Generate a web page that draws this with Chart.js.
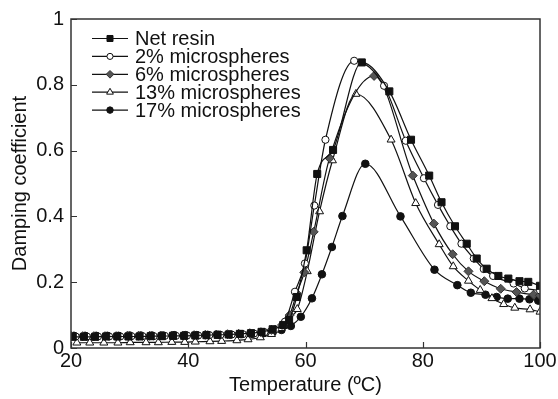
<!DOCTYPE html>
<html>
<head>
<meta charset="utf-8">
<script src="https://cdn.jsdelivr.net/npm/chart.js@4/dist/chart.umd.min.js"></script>
<style>
  html, body { margin: 0; padding: 0; background: #fff; }
  canvas { display: block; }
</style>
</head>
<body>
<canvas id="c" width="558" height="399"></canvas>
<script>
// ---- data ----
const seriesLabels = ['Net resin', '2% microspheres', '6% microspheres', '13% microspheres', '17% microspheres'];
const xTicks = [20, 40, 60, 80, 100];
const yTicks = [0, 0.2, 0.4, 0.6, 0.8, 1];

const netT = [20.3, 22.2, 24.1, 26.0, 27.9, 29.8, 31.7, 33.6, 35.5, 37.4, 39.3, 41.2, 43.1, 45.0, 46.9, 48.8, 50.7, 52.5, 54.4, 56.2, 57.2, 58.5, 60.2, 62.0, 64.7, 69.6, 74.3, 78.0, 81.1, 83.2, 85.5, 87.5, 89.2, 90.9, 92.9, 94.6, 96.5, 98.0, 100];
const netV = [0.034, 0.034, 0.034, 0.035, 0.035, 0.035, 0.035, 0.036, 0.036, 0.037, 0.037, 0.038, 0.039, 0.040, 0.041, 0.043, 0.045, 0.049, 0.057, 0.070, 0.085, 0.155, 0.297, 0.529, 0.602, 0.868, 0.780, 0.633, 0.524, 0.443, 0.370, 0.317, 0.272, 0.241, 0.219, 0.211, 0.203, 0.201, 0.189];

const p2T = [20.8, 22.7, 24.6, 26.5, 28.4, 30.3, 32.2, 34.1, 36.0, 37.9, 39.8, 41.7, 43.6, 45.5, 47.4, 49.3, 51.2, 53.0, 54.8, 56.5, 58.2, 59.9, 61.5, 63.4, 68.3, 73.4, 77.1, 80.2, 82.6, 84.7, 86.6, 88.7, 90.4, 92.0, 95.5, 97.4, 100];
const p2V = [0.035, 0.035, 0.035, 0.035, 0.035, 0.036, 0.036, 0.036, 0.037, 0.037, 0.038, 0.038, 0.039, 0.040, 0.041, 0.042, 0.044, 0.048, 0.056, 0.080, 0.171, 0.257, 0.433, 0.633, 0.873, 0.797, 0.630, 0.516, 0.435, 0.370, 0.317, 0.272, 0.240, 0.219, 0.196, 0.181, 0.175];

const p6T = [20.1, 22.0, 23.9, 25.8, 27.7, 29.6, 31.5, 33.4, 35.3, 37.2, 39.1, 41.0, 42.9, 44.8, 46.7, 48.6, 50.5, 52.4, 54.2, 56.0, 57.3, 58.5, 59.8, 61.4, 64.1, 71.7, 78.3, 81.9, 85.1, 87.8, 90.5, 93.3, 96.0, 98.9, 100];
const p6V = [0.036, 0.036, 0.036, 0.036, 0.036, 0.037, 0.037, 0.037, 0.038, 0.038, 0.038, 0.039, 0.040, 0.041, 0.042, 0.043, 0.045, 0.048, 0.055, 0.070, 0.100, 0.166, 0.230, 0.353, 0.577, 0.827, 0.524, 0.378, 0.285, 0.233, 0.203, 0.180, 0.170, 0.162, 0.160];

const p13T = [21.0, 23.2, 25.6, 28.0, 30.1, 32.8, 34.9, 37.2, 39.4, 41.2, 43.7, 45.7, 48.3, 50.2, 52.3, 54.2, 55.8, 56.9, 58.6, 60.3, 62.4, 64.6, 68.6, 74.6, 78.8, 82.8, 85.2, 87.8, 89.8, 91.8, 93.8, 95.7, 98.3, 100];
const p13V = [0.016, 0.016, 0.016, 0.016, 0.017, 0.017, 0.017, 0.018, 0.018, 0.019, 0.020, 0.021, 0.023, 0.026, 0.032, 0.042, 0.060, 0.090, 0.118, 0.233, 0.415, 0.570, 0.772, 0.633, 0.440, 0.315, 0.248, 0.204, 0.176, 0.151, 0.133, 0.122, 0.117, 0.110];

const p17T = [20.5, 22.4, 24.3, 26.2, 28.1, 30.0, 31.9, 33.8, 35.7, 37.6, 39.5, 41.4, 43.3, 45.2, 47.1, 49.0, 50.9, 52.8, 54.4, 55.9, 57.5, 59.2, 61.1, 62.8, 64.5, 66.3, 70.2, 76.2, 82.0, 85.9, 88.2, 90.7, 92.6, 94.5, 96.5, 98.2, 99.7];
const p17V = [0.037, 0.037, 0.037, 0.037, 0.037, 0.038, 0.038, 0.038, 0.038, 0.039, 0.039, 0.039, 0.040, 0.040, 0.041, 0.042, 0.043, 0.045, 0.048, 0.055, 0.067, 0.095, 0.151, 0.224, 0.307, 0.401, 0.560, 0.400, 0.238, 0.191, 0.168, 0.162, 0.155, 0.150, 0.150, 0.148, 0.144];

// ---- build chart ----
const pts = (xs, ys) => xs.map((x, i) => ({ x: x, y: ys[i] }));
const styles = [
  { pointStyle: 'rect',     pointRadius: 5,   pointBackgroundColor: '#111', pointBorderColor: '#111', pointBorderWidth: 1 },
  { pointStyle: 'circle',   pointRadius: 3.6, pointBackgroundColor: '#fff', pointBorderColor: '#111', pointBorderWidth: 1 },
  { pointStyle: 'rectRot',  pointRadius: 4.5, pointBackgroundColor: '#555', pointBorderColor: '#333', pointBorderWidth: 1 },
  { pointStyle: 'triangle', pointRadius: 4.6, pointBackgroundColor: '#fff', pointBorderColor: '#111', pointBorderWidth: 1 },
  { pointStyle: 'circle',   pointRadius: 3.8, pointBackgroundColor: '#111', pointBorderColor: '#111', pointBorderWidth: 1 }
];
const dataSets = [pts(netT, netV), pts(p2T, p2V), pts(p6T, p6V), pts(p13T, p13V), pts(p17T, p17V)];

const datasets = dataSets.map((d, i) => Object.assign({
  label: seriesLabels[i],
  data: d,
  showLine: true,
  borderColor: '#111',
  borderWidth: 1.2,
  cubicInterpolationMode: 'monotone',
  fill: false
}, styles[i]));

const FONT = '"Liberation Sans", Arial, Helvetica, sans-serif';

const framePlugin = {
  id: 'frame',
  afterDatasetsDraw(chart) {
    const ctx = chart.ctx;
    const a = chart.chartArea;
    const xs = chart.scales.x, ys = chart.scales.y;
    ctx.save();
    ctx.strokeStyle = '#333';
    ctx.lineWidth = 1.5;
    ctx.strokeRect(a.left, a.top, a.right - a.left, a.bottom - a.top);
    ctx.lineWidth = 1.2;
    ctx.beginPath();
    xs.ticks.forEach(t => {
      const px = Math.round(xs.getPixelForValue(t.value)) + 0.5;
      ctx.moveTo(px, a.bottom);
      ctx.lineTo(px, a.bottom - 6);
    });
    ys.ticks.forEach(t => {
      const py = Math.round(ys.getPixelForValue(t.value)) + 0.5;
      ctx.moveTo(a.left, py);
      ctx.lineTo(a.left + 6, py);
    });
    ctx.stroke();
    ctx.restore();
  },
  afterDraw(chart) {
    // legend
    const ctx = chart.ctx;
    ctx.save();
    chart.data.datasets.forEach((ds, i) => {
      const y = 38.5 + i * 17.9;
      ctx.strokeStyle = '#111';
      ctx.lineWidth = 1.2;
      ctx.beginPath();
      ctx.moveTo(92, y);
      ctx.lineTo(128, y);
      ctx.stroke();
      ctx.fillStyle = ds.pointBackgroundColor;
      ctx.strokeStyle = ds.pointBorderColor;
      ctx.lineWidth = ds.pointBorderWidth;
      Chart.helpers.drawPoint(ctx, {
        pointStyle: ds.pointStyle,
        radius: ds.pointRadius * 0.85,
        rotation: 0,
        borderWidth: ds.pointBorderWidth
      }, 110, y);
      ctx.fillStyle = '#111';
      ctx.font = '20px ' + FONT;
      ctx.textBaseline = 'middle';
      ctx.textAlign = 'left';
      ctx.fillText(ds.label, 135, y + 1);
    });
    ctx.restore();
  }
};

new Chart(document.getElementById('c'), {
  type: 'scatter',
  data: { datasets: datasets },
  options: {
    responsive: false,
    animation: false,
    devicePixelRatio: 1,
    layout: { padding: { left: 0, top: 18, right: 18, bottom: 0 } },
    plugins: { legend: { display: false }, tooltip: { enabled: false } },
    scales: {
      x: {
        type: 'linear',
        min: 20, max: 100,
        afterBuildTicks: s => { s.ticks = xTicks.map(v => ({ value: v })); },
        afterFit: s => { s.height = 51; },
        grid: { display: false, drawTicks: false },
        border: { display: false },
        ticks: { color: '#111', padding: 1, font: { family: FONT, size: 20 }, maxRotation: 0, callback: v => String(v) },
        title: { display: true, text: 'Temperature (ºC)', color: '#111', font: { family: FONT, size: 20 }, padding: { top: 0, bottom: 2 } }
      },
      y: {
        type: 'linear',
        min: 0, max: 1,
        afterBuildTicks: s => { s.ticks = yTicks.map(v => ({ value: v })); },
        afterFit: s => { s.width = 71; },
        grid: { display: false, drawTicks: false },
        border: { display: false },
        ticks: { color: '#111', padding: 7, font: { family: FONT, size: 20 }, callback: v => String(Math.round(v * 10) / 10) },
        title: { display: true, text: 'Damping coefficient', color: '#111', font: { family: FONT, size: 20 }, padding: { top: 8, bottom: 0 } }
      }
    }
  },
  plugins: [framePlugin]
});
</script>
</body>
</html>
